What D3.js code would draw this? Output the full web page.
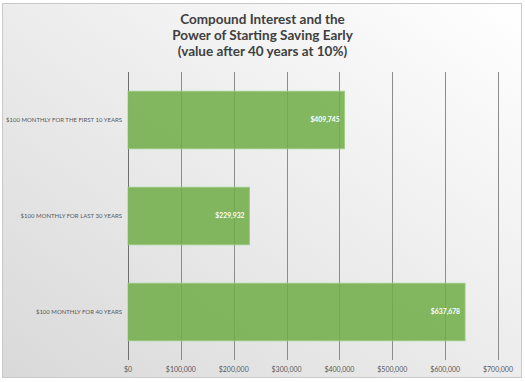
<!DOCTYPE html>
<html>
<head>
<meta charset="utf-8">
<script src="https://cdn.jsdelivr.net/npm/d3@7"></script>
<style>
  body { margin: 0; background: #fff; }
  svg { display: block; }
</style>
</head>
<body>
<svg width="525" height="382"></svg>
<script>
// chart values
var titleLines = ["Compound Interest and the", "Power of Starting Saving Early", "(value after 40 years at 10%)"];
var categories = ["$100 MONTHLY FOR THE FIRST 10 YEARS", "$100 MONTHLY FOR LAST 30 YEARS", "$100 MONTHLY FOR 40 YEARS"];
var values = [409745, 229932, 637678];
var tickValues = [0, 100000, 200000, 300000, 400000, 500000, 600000, 700000];

var svg = d3.select("svg"),
    width = +svg.attr("width"),
    height = +svg.attr("height");

// background gradient, white at top right to grey at bottom left
var defs = svg.append("defs");
var grad = defs.append("linearGradient")
    .attr("id", "bg")
    .attr("x1", "100%").attr("y1", "0%")
    .attr("x2", "0%").attr("y2", "100%");
grad.append("stop").attr("offset", "0%").attr("stop-color", "#ffffff");
grad.append("stop").attr("offset", "100%").attr("stop-color", "#d9d9d9");

svg.append("rect")
    .attr("x", 2.5).attr("y", 3.5)
    .attr("width", 519).attr("height", 374)
    .attr("fill", "url(#bg)")
    .attr("stroke", "#c9c9c9")
    .attr("stroke-width", 1);

var margin = {top: 72, left: 128, right: 27, bottom: 22};
var x = d3.scaleLinear()
    .domain([0, 700000])
    .range([margin.left, 498]);

var y = d3.scaleBand()
    .domain(categories)
    .range([margin.top, 360])
    .paddingInner(0.4)
    .paddingOuter(0.2);

var fmt = d3.format("$,");

// title
svg.append("g").selectAll("text")
    .data(titleLines)
  .enter().append("text")
    .attr("x", width / 2)
    .attr("y", function(d, i) { return 24 + i * 16; })
    .attr("text-anchor", "middle")
    .style("font-family", "Lato, 'Open Sans', sans-serif")
    .style("font-weight", "bold")
    .style("font-size", "13.5px")
    .style("fill", "#404040")
    .text(function(d) { return d; });

// vertical gridlines
svg.append("g").selectAll("line")
    .data(tickValues)
  .enter().append("line")
    .attr("x1", function(d) { return Math.round(x(d)) + 0.5; })
    .attr("x2", function(d) { return Math.round(x(d)) + 0.5; })
    .attr("y1", 72)
    .attr("y2", 360)
    .attr("stroke", function(d) { return d === 0 ? "#6e6e6e" : "#8c8c8c"; })
    .attr("stroke-width", 1);

// bars
svg.append("g").selectAll("rect")
    .data(values)
  .enter().append("rect")
    .attr("x", x(0))
    .attr("y", function(d, i) { return y(categories[i]); })
    .attr("width", function(d) { return x(d) - x(0); })
    .attr("height", y.bandwidth())
    .attr("fill", "#70ad47")
    .attr("fill-opacity", 0.86)
    .attr("stroke", "#9ccc80")
    .attr("stroke-width", 0.8);

// value labels
svg.append("g").selectAll("text")
    .data(values)
  .enter().append("text")
    .attr("x", function(d) { return x(d) - 5; })
    .attr("y", function(d, i) { return y(categories[i]) + y.bandwidth() / 2; })
    .attr("dy", "0.35em")
    .attr("text-anchor", "end")
    .style("font-family", "Lato, 'Open Sans', sans-serif")
    .style("font-weight", "bold")
    .style("font-size", "6.8px")
    .style("fill", "#ffffff")
    .text(function(d) { return fmt(d); });

// category labels
svg.append("g").selectAll("text")
    .data(categories)
  .enter().append("text")
    .attr("x", 122)
    .attr("y", function(d) { return y(d) + y.bandwidth() / 2; })
    .attr("dy", "0.35em")
    .attr("text-anchor", "end")
    .style("font-family", "Lato, 'Open Sans', sans-serif")
    .style("font-size", "6px")
    .style("fill", "#595959")
    .text(function(d) { return d; });

// x tick labels
svg.append("g").selectAll("text")
    .data(tickValues)
  .enter().append("text")
    .attr("x", function(d) { return x(d); })
    .attr("y", 372)
    .attr("text-anchor", "middle")
    .style("font-family", "Lato, 'Open Sans', sans-serif")
    .style("font-size", "7px")
    .style("fill", "#595959")
    .text(function(d) { return fmt(d); });
</script>
</body>
</html>
